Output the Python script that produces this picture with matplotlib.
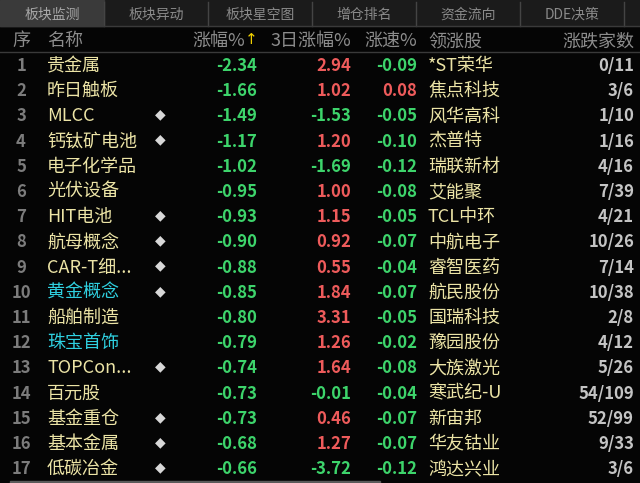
import matplotlib
matplotlib.use('Agg')
import matplotlib.pyplot as plt
from matplotlib.patches import Rectangle

plt.rcParams['font.family'] = ['Noto Sans CJK SC', 'DejaVu Sans']

# data
tabs = ['板块监测', '板块异动', '板块星空图', '增仓排名', '资金流向', 'DDE决策']
names = ['贵金属', '昨日触板', 'MLCC', '钙钛矿电池', '电子化学品', '光伏设备', 'HIT电池',
         '航母概念', 'CAR-T细...', '黄金概念', '船舶制造', '珠宝首饰', 'TOPCon...',
         '百元股', '基金重仓', '基本金属', '低碳冶金']
chg = [-2.34, -1.66, -1.49, -1.17, -1.02, -0.95, -0.93, -0.90, -0.88, -0.85,
       -0.80, -0.79, -0.74, -0.73, -0.73, -0.68, -0.66]
chg3 = [2.94, 1.02, -1.53, 1.20, -1.69, 1.00, 1.15, 0.92, 0.55, 1.84,
        3.31, 1.26, 1.64, -0.01, 0.46, 1.27, -3.72]
speed = [-0.09, 0.08, -0.05, -0.10, -0.12, -0.08, -0.05, -0.07, -0.04, -0.07,
         -0.05, -0.02, -0.08, -0.04, -0.07, -0.07, -0.12]
leaders = ['*ST荣华', '焦点科技', '风华高科', '杰普特', '瑞联新材', '艾能聚', 'TCL中环',
           '中航电子', '睿智医药', '航民股份', '国瑞科技', '豫园股份', '大族激光',
           '寒武纪-U', '新宙邦', '华友钴业', '鸿达兴业']
counts = ['0/11', '3/6', '1/10', '1/16', '4/16', '7/39', '4/21', '10/26', '7/14',
          '10/38', '2/8', '4/12', '5/26', '54/109', '52/99', '9/33', '3/6']
flagged = ['MLCC', '钙钛矿电池', 'HIT电池', '航母概念', 'CAR-T细...', '黄金概念',
           'TOPCon...', '基金重仓', '基本金属', '低碳冶金']
cyan_names = ['黄金概念', '珠宝首饰']

BG = '#050505'
GREEN = '#3dd46b'
RED = '#ee5b5b'
NAME = '#ece4a6'
CYAN = '#2fd0e0'
HEAD = '#8c8c8c'


def color_of(v):
    return RED if v > 0 else GREEN


fig = plt.figure(figsize=(6.4, 4.83), dpi=100, facecolor=BG)
ax = fig.add_axes([0, 0, 1, 1])
ax.set_xlim(0, 640)
ax.set_ylim(483, 0)
ax.axis('off')
ax.set_facecolor(BG)

# tab bar
tab_w = 104
ax.add_patch(Rectangle((0, 0), 640, 26, color='#1b1b1b', zorder=0))
for i, t in enumerate(tabs):
    x0 = i * tab_w
    if i == 0:
        ax.add_patch(Rectangle((x0, 0), tab_w, 26, color='#3a3a3a', zorder=1))
    ax.plot([x0 + tab_w, x0 + tab_w], [2, 26], color='#444444', lw=1)
    ax.text(x0 + tab_w / 2, 15, t, ha='center', va='center', fontsize=10,
            color='#a8a8a8' if i == 0 else '#8a8a8a')
ax.plot([0, 640], [26, 26], color='#3a3a3a', lw=1)

# header row
hy = 41
ax.text(21, hy, '序', ha='center', va='center', fontsize=13, color=HEAD)
ax.text(47, hy, '名称', ha='left', va='center', fontsize=13, color=HEAD)
ax.text(245, hy, '涨幅%', ha='right', va='center', fontsize=13, color=HEAD)
ax.text(251, hy - 1, '↑', ha='center', va='center', fontsize=11, color='#f0d000',
        family=['DejaVu Sans'])
ax.text(351, hy, '3日涨幅%', ha='right', va='center', fontsize=13, color=HEAD)
ax.text(417, hy, '涨速%', ha='right', va='center', fontsize=13, color=HEAD)
ax.text(428, hy, '领涨股', ha='left', va='center', fontsize=13, color=HEAD)
ax.text(634, hy, '涨跌家数', ha='right', va='center', fontsize=13, color=HEAD)
ax.plot([0, 640], [51.5, 51.5], color='#3a3a3a', lw=1)

# rows
for i, name in enumerate(names):
    y = 66 + i * 25.2
    ax.text(21, y, str(i + 1), ha='center', va='center', fontsize=12,
            color='#7c7c7c', fontweight='bold')
    ax.text(47, y, name, ha='left', va='center', fontsize=13,
            color=CYAN if name in cyan_names else NAME)
    if name in flagged:
        ax.text(160, y - 2, '◆', ha='center', va='center', fontsize=10,
                color='#d8d8d8', family=['DejaVu Sans'])
    ax.text(257, y, f'{chg[i]:.2f}', ha='right', va='center', fontsize=12,
            color=color_of(chg[i]), fontweight='bold')
    ax.text(351, y, f'{chg3[i]:.2f}', ha='right', va='center', fontsize=12,
            color=color_of(chg3[i]), fontweight='bold')
    ax.text(417, y, f'{speed[i]:.2f}', ha='right', va='center', fontsize=12,
            color=color_of(speed[i]), fontweight='bold')
    ax.text(428, y, leaders[i], ha='left', va='center', fontsize=13, color=NAME)
    ax.text(634, y, counts[i], ha='right', va='center', fontsize=12,
            color='#c4c4c4', fontweight='bold')

# scrollbar at the bottom
ax.add_patch(Rectangle((10, 480.5), 370, 2.5, color='#5a5a5a', zorder=2))

fig.savefig('out.png', dpi=100, facecolor=BG)
